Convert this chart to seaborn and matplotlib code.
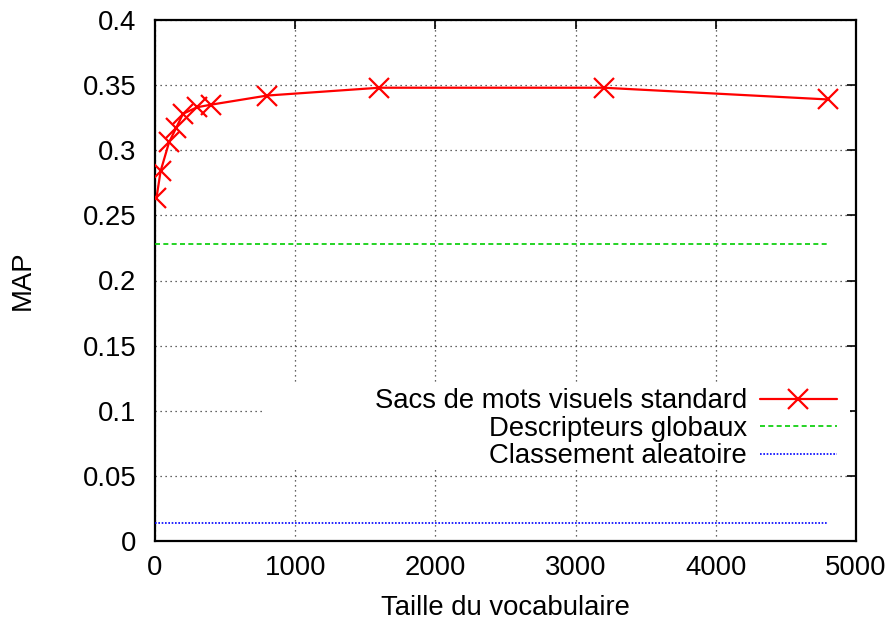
import matplotlib
matplotlib.use("Agg")
import matplotlib.pyplot as plt
import seaborn as sns
import pandas as pd
from matplotlib.patches import Rectangle

vocab_sizes = [10, 40, 100, 150, 200, 300, 400, 800, 1600, 3200, 4800]
map_bow = [0.263, 0.284, 0.306, 0.317, 0.328, 0.333, 0.335, 0.342, 0.348, 0.348, 0.339]
global_desc = 0.228
random_rank = 0.014
x_ticks = [0, 1000, 2000, 3000, 4000, 5000]
y_ticks = [0, 0.05, 0.1, 0.15, 0.2, 0.25, 0.3, 0.35, 0.4]
y_tick_labels = ["0", "0.05", "0.1", "0.15", "0.2", "0.25", "0.3", "0.35", "0.4"]
labels = ["Sacs de mots visuels standard", "Descripteurs globaux", "Classement aleatoire"]

sns.set_theme(style="white")
plt.rcParams["font.family"] = ["Liberation Sans", "DejaVu Sans"]
plt.rcParams["text.color"] = "black"
plt.rcParams["axes.labelcolor"] = "black"

FS = 19.8

fig = plt.figure(figsize=(8.92, 6.22), dpi=100)
ax = fig.add_axes([155/892, 1-541/622, 701/892, 521/622])

df = pd.DataFrame({"x": vocab_sizes, "y": map_bow})
flat = pd.DataFrame({"x": [0, 4800], "g": [global_desc]*2, "b": [random_rank]*2})

sns.lineplot(data=df, x="x", y="y", ax=ax, color="#ff0000", lw=1.6,
             marker="x", markersize=14, markeredgewidth=1.6, markeredgecolor="#ff0000",
             label=labels[0], zorder=3)
sns.lineplot(data=flat, x="x", y="g", ax=ax, color="#00cc00", lw=1.2,
             linestyle=(0, (3, 2)), label=labels[1], zorder=3)
sns.lineplot(data=flat, x="x", y="b", ax=ax, color="#0000ff", lw=1.2,
             linestyle=(0, (1, 1)), label=labels[2], zorder=3)

ax.set_xlim(0, 5000)
ax.set_ylim(0, 0.4)
ax.set_xticks(x_ticks)
ax.set_yticks(y_ticks)
ax.set_yticklabels(y_tick_labels)
ax.set_axisbelow(True)
ax.grid(True, color="#333333", linestyle=(0, (1, 3)), linewidth=0.9)
ax.tick_params(axis="both", direction="in", length=6.5, width=1.2, labelsize=FS,
               top=True, right=True, colors="black", labelcolor="black")
ax.tick_params(axis="x", pad=10)
ax.tick_params(axis="y", pad=13.5)
for s in ax.spines.values():
    s.set_visible(True)
    s.set_color("black")
    s.set_linewidth(1.6)

ax.set_xlabel("Taille du vocabulaire", fontsize=FS, labelpad=10, color="black")
ax.set_ylabel("MAP", fontsize=FS, labelpad=34, color="black")

ax.add_patch(Rectangle(((265-155)/701, (541-468)/521), (850-265)/701, (468-383)/521,
                       transform=ax.transAxes, facecolor="white", edgecolor="none", zorder=1))

leg = ax.legend(loc="upper right", bbox_to_anchor=((842-155)/701, (541-383)/521),
                frameon=False, markerfirst=False, fontsize=FS, handlelength=2.8,
                handletextpad=0.45, labelspacing=0.05, borderpad=0.2, borderaxespad=0)
for t in leg.get_texts():
    t.set_color("black")

fig.savefig("out.png", dpi=100)
